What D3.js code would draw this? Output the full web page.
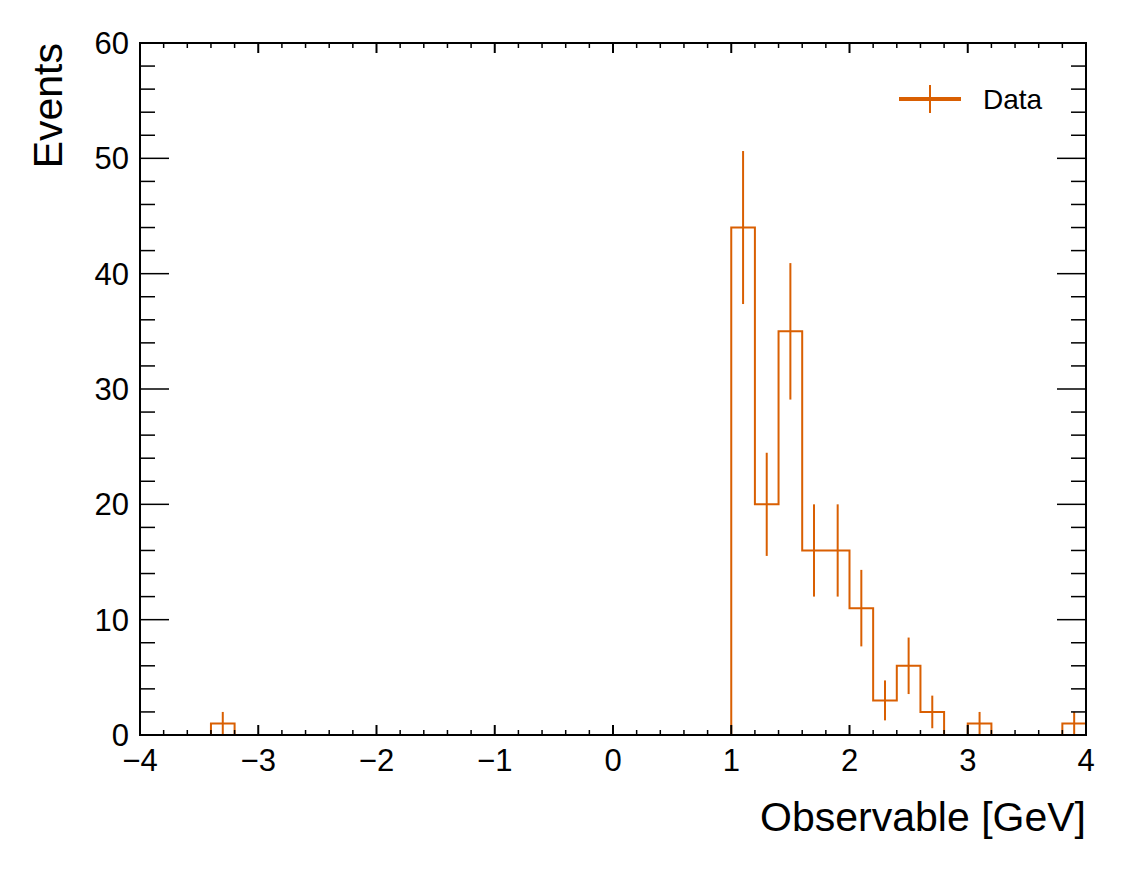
<!DOCTYPE html>
<html lang="en">
<meta charset="utf-8">
<title>Observable histogram</title>
<head>
  <style>
    body { margin: 0; background: #fff; }
    text { font-family: "Liberation Sans", Arial, Helvetica, sans-serif; fill: #000; }
  </style>
</head>
<body>
  <script src="https://d3js.org/d3.v7.min.js"></script>
  <div id="my_dataviz"></div>
  <script>

    // bin edges: 40 bins of 0.2 from -4 to 4
    var binLow = [-4.0, -3.8, -3.6, -3.4, -3.2, -3.0, -2.8, -2.6, -2.4, -2.2,
                  -2.0, -1.8, -1.6, -1.4, -1.2, -1.0, -0.8, -0.6, -0.4, -0.2,
                   0.0,  0.2,  0.4,  0.6,  0.8,  1.0,  1.2,  1.4,  1.6,  1.8,
                   2.0,  2.2,  2.4,  2.6,  2.8,  3.0,  3.2,  3.4,  3.6,  3.8];
    var binWidth = 0.2;
    // counts per bin
    var counts = [0, 0, 0, 1, 0, 0, 0, 0, 0, 0,
                  0, 0, 0, 0, 0, 0, 0, 0, 0, 0,
                  0, 0, 0, 0, 0, 44, 20, 35, 16, 16,
                  11, 3, 6, 2, 0, 1, 0, 0, 0, 1];

    var xTicks = [-4, -3, -2, -1, 0, 1, 2, 3, 4];
    var yTicks = [0, 10, 20, 30, 40, 50, 60];
    var seriesName = "Data";
    var color = "#d95f02";

    var W = 1127, H = 871;
    var margin = { top: 43, right: 41, bottom: 136, left: 140 };
    var width = W - margin.left - margin.right,
        height = H - margin.top - margin.bottom;

    var svg = d3.select("#my_dataviz")
      .append("svg")
      .attr("width", W)
      .attr("height", H);

    var g = svg.append("g")
      .attr("transform", "translate(" + margin.left + "," + margin.top + ")");

    var x = d3.scaleLinear().domain([-4, 4]).range([0, width]);
    var y = d3.scaleLinear().domain([0, 60]).range([height, 0]);

    var data = binLow.map((lo, i) => ({ lo: lo, hi: lo + binWidth, n: counts[i] }));

    // minor ticks
    var xMinor = d3.range(-4, 4.0001, 0.2).map(v => +v.toFixed(2));
    var yMinor = d3.range(0, 60.0001, 2);

    // step histogram outline
    var pts = [[x(-4), y(0)]];
    data.forEach(d => {
      pts.push([x(d.lo), y(d.n)]);
      pts.push([x(d.hi), y(d.n)]);
    });
    pts.push([x(4), y(0)]);
    g.append("path")
      .attr("d", d3.line()(pts))
      .attr("fill", "none")
      .attr("stroke", color)
      .attr("stroke-width", 2);

    // error bars (sqrt N)
    g.selectAll(".err")
      .data(data.filter(d => d.n > 0))
      .enter().append("line")
      .attr("x1", d => x(d.lo + binWidth / 2))
      .attr("x2", d => x(d.lo + binWidth / 2))
      .attr("y1", d => y(Math.max(0, d.n - Math.sqrt(d.n))))
      .attr("y2", d => y(d.n + Math.sqrt(d.n)))
      .attr("stroke", color)
      .attr("stroke-width", 2);

    // frame axes with ROOT style ticks
    var axisG = g.append("g");
    function tick(x1, y1, x2, y2, w) {
      axisG.append("line")
        .attr("x1", x1).attr("y1", y1).attr("x2", x2).attr("y2", y2)
        .attr("stroke", "#000").attr("stroke-width", w || 1.5);
    }
    xMinor.forEach(v => {
      var major = xTicks.indexOf(v) >= 0;
      var len = major ? 10 : 5;
      tick(x(v), height, x(v), height - len, major ? 2 : 1.5);
      tick(x(v), 0, x(v), len, major ? 2 : 1.5);
    });
    yMinor.forEach(v => {
      var major = yTicks.indexOf(v) >= 0;
      var len = major ? 29 : 15;
      tick(0, y(v), len, y(v), 1.5);
      tick(width, y(v), width - len, y(v), 1.5);
    });
    axisG.append("rect")
      .attr("x", 0).attr("y", 0)
      .attr("width", width).attr("height", height)
      .attr("fill", "none").attr("stroke", "#000").attr("stroke-width", 2);

    // tick labels
    g.selectAll(".xl")
      .data(xTicks)
      .enter().append("text")
      .attr("x", d => x(d))
      .attr("y", height + 36)
      .attr("text-anchor", "middle")
      .style("font-size", "31px")
      .text(d => d < 0 ? "\u2212" + Math.abs(d) : d);

    g.selectAll(".yl")
      .data(yTicks)
      .enter().append("text")
      .attr("x", -11)
      .attr("y", d => y(d) + 11)
      .attr("text-anchor", "end")
      .style("font-size", "31px")
      .text(d => d);

    // axis titles
    g.append("text")
      .attr("x", width)
      .attr("y", height + 96)
      .attr("text-anchor", "end")
      .style("font-size", "41px")
      .text("Observable [GeV]");

    g.append("text")
      .attr("transform", "translate(-78,0) rotate(-90)")
      .attr("text-anchor", "end")
      .style("font-size", "41px")
      .text("Events");

    // legend
    var leg = svg.append("g");
    leg.append("line")
      .attr("x1", 899).attr("x2", 961).attr("y1", 99).attr("y2", 99)
      .attr("stroke", color).attr("stroke-width", 4);
    leg.append("line")
      .attr("x1", 930).attr("x2", 930).attr("y1", 85).attr("y2", 113)
      .attr("stroke", color).attr("stroke-width", 2);
    leg.append("text")
      .attr("x", 983).attr("y", 109)
      .style("font-size", "28px")
      .text(seriesName);

  </script>
</body>
</html>
